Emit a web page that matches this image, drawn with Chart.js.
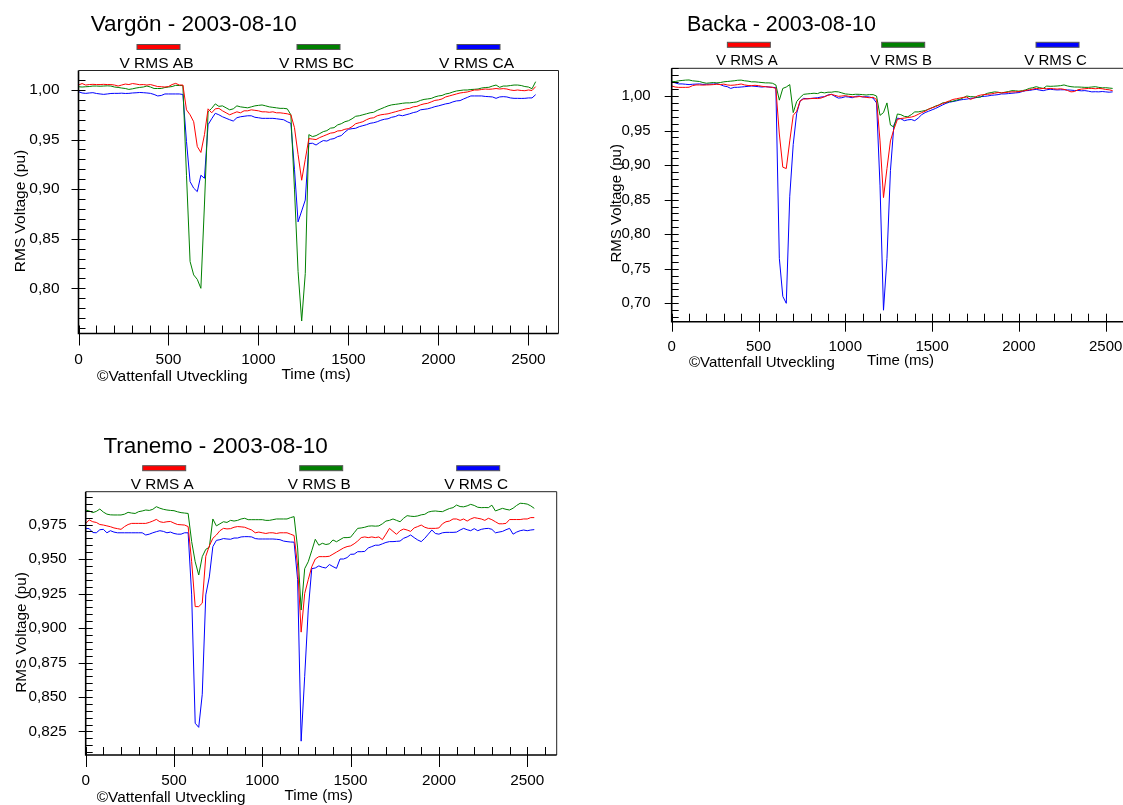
<!DOCTYPE html>
<html>
<head>
<meta charset="utf-8">
<title>RMS Voltage - 2003-08-10</title>
<script src="https://cdn.jsdelivr.net/npm/chart.js@4"></script>
<style>
  html, body { margin: 0; padding: 0; background: #fff; overflow: hidden; width: 1123px; height: 805px; }
  canvas { position: absolute; }
</style>
</head>
<body>
<canvas id="vargon" width="600" height="400" style="left:0;top:0;width:600px;height:400px"></canvas>
<canvas id="backa" width="560" height="400" style="left:600px;top:0;width:560px;height:400px"></canvas>
<canvas id="tranemo" width="600" height="375" style="left:0;top:430px;width:600px;height:375px"></canvas>
<script>
// sample times (ms), one sample per 20 ms
const timeMs = [
  0, 20, 40, 60, 80, 100, 120, 140,
  160, 180, 200, 220, 240, 260, 280, 300,
  320, 340, 360, 380, 400, 420, 440, 460,
  480, 500, 520, 540, 560, 580, 600, 620,
  640, 660, 680, 700, 720, 740, 760, 780,
  800, 820, 840, 860, 880, 900, 920, 940,
  960, 980, 1000, 1020, 1040, 1060, 1080, 1100,
  1120, 1140, 1160, 1180, 1200, 1220, 1240, 1260,
  1280, 1300, 1320, 1340, 1360, 1380, 1400, 1420,
  1440, 1460, 1480, 1500, 1520, 1540, 1560, 1580,
  1600, 1620, 1640, 1660, 1680, 1700, 1720, 1740,
  1760, 1780, 1800, 1820, 1840, 1860, 1880, 1900,
  1920, 1940, 1960, 1980, 2000, 2020, 2040, 2060,
  2080, 2100, 2120, 2140, 2160, 2180, 2200, 2220,
  2240, 2260, 2280, 2300, 2320, 2340, 2360, 2380,
  2400, 2420, 2440, 2460, 2480, 2500, 2520, 2540
];
// labelled time ticks
const timeTicks = [0, 500, 1000, 1500, 2000, 2500];

// Vargön, line-to-line voltages (pu)
const vargonAB = [
  1.005, 1.0065, 1.005, 1.0055, 1.0057, 1.0055, 1.0055, 1.0057,
  1.0055, 1.0055, 1.005, 1.004, 1.005, 1.006, 1.0055, 1.0065,
  1.006, 1.0053, 1.0055, 1.005, 1.0055, 1.0045, 1.0035, 1.0033,
  1.003, 1.0035, 1.0055, 1.0067, 1.005, 1.005, 0.980, 0.975,
  0.968, 0.943, 0.937, 0.955, 0.981, 0.977, 0.981, 0.9815,
  0.979, 0.977, 0.975, 0.9765, 0.978, 0.977, 0.979, 0.979,
  0.980, 0.9795, 0.979, 0.978, 0.978, 0.9775, 0.978, 0.977,
  0.977, 0.9765, 0.976, 0.975, 0.962, 0.935, 0.909, 0.930,
  0.951, 0.9505, 0.950, 0.952, 0.9535, 0.955, 0.9565, 0.957,
  0.9587, 0.959, 0.9604, 0.961, 0.963, 0.966, 0.967, 0.968,
  0.970, 0.9715, 0.972, 0.974, 0.975, 0.9755, 0.976, 0.977,
  0.978, 0.979, 0.980, 0.981, 0.9815, 0.983, 0.9835, 0.985,
  0.986, 0.9866, 0.988, 0.9895, 0.990, 0.991, 0.993, 0.994,
  0.995, 0.996, 0.997, 0.9975, 0.998, 0.999, 1.000, 1.000,
  1.0005, 1.001, 1.0007, 1.001, 1.0015, 1.001, 1.0014, 1.001,
  1.000, 0.9995, 1.000, 0.9995, 0.9993, 1.000, 0.9995, 1.0034
];
const vargonBC = [
  1.0033, 1.003, 1.0033, 1.0035, 1.004, 1.004, 1.0038, 1.004,
  1.0042, 1.004, 1.003, 1.0026, 1.002, 1.0015, 1.0006, 1.0012,
  1.002, 1.0026, 1.003, 1.004, 1.003, 1.0015, 1.0015, 1.0015,
  1.0025, 1.003, 1.0035, 1.0047, 1.0045, 1.0045, 0.914, 0.827,
  0.8135, 0.809, 0.800, 0.885, 0.978, 0.9815, 0.986, 0.9835,
  0.984, 0.982, 0.980, 0.981, 0.984, 0.983, 0.9825, 0.982,
  0.983, 0.984, 0.9845, 0.9849, 0.984, 0.983, 0.9825, 0.982,
  0.9815, 0.9815, 0.981, 0.975, 0.900, 0.817, 0.767, 0.815,
  0.955, 0.953, 0.954, 0.956, 0.958, 0.959, 0.9615, 0.962,
  0.9648, 0.966, 0.968, 0.969, 0.971, 0.9735, 0.974, 0.975,
  0.976, 0.977, 0.9775, 0.9795, 0.981, 0.9825, 0.984, 0.985,
  0.9855, 0.986, 0.9866, 0.987, 0.987, 0.9875, 0.988, 0.9895,
  0.9905, 0.991, 0.9915, 0.993, 0.994, 0.9945, 0.996, 0.9967,
  0.998, 0.999, 0.9995, 1.000, 1.000, 1.0005, 1.0007, 1.001,
  1.002, 1.0025, 1.0027, 1.004, 1.005, 1.0027, 1.004, 1.004,
  1.0045, 1.005, 1.005, 1.0045, 1.0035, 1.003, 1.0013, 1.0084
];
const vargonCA = [
  0.9983, 0.997, 0.9966, 0.997, 0.9973, 0.9965, 0.996, 0.9956,
  0.996, 0.9965, 0.9966, 0.9966, 0.9968, 0.9965, 0.9966, 0.997,
  0.9972, 0.9975, 0.9973, 0.997, 0.9966, 0.9955, 0.994, 0.9945,
  0.996, 0.996, 0.996, 0.996, 0.996, 0.9955, 0.948, 0.9076,
  0.901, 0.8975, 0.914, 0.911, 0.965, 0.971, 0.9765, 0.975,
  0.973, 0.9715, 0.970, 0.9687, 0.972, 0.973, 0.9735, 0.974,
  0.974, 0.9725, 0.972, 0.9714, 0.9714, 0.9714, 0.9714, 0.971,
  0.9705, 0.970, 0.968, 0.9664, 0.920, 0.867, 0.878, 0.889,
  0.946, 0.9463, 0.9445, 0.947, 0.949, 0.9485, 0.9503, 0.951,
  0.953, 0.954, 0.9575, 0.9604, 0.961, 0.9614, 0.963, 0.964,
  0.965, 0.9664, 0.967, 0.968, 0.9695, 0.9705, 0.971, 0.9725,
  0.9732, 0.9748, 0.974, 0.975, 0.976, 0.9772, 0.978, 0.980,
  0.9805, 0.981, 0.982, 0.9832, 0.984, 0.985, 0.986, 0.9866,
  0.988, 0.989, 0.9893, 0.991, 0.9925, 0.994, 0.994, 0.994,
  0.994, 0.9935, 0.9933, 0.993, 0.9916, 0.993, 0.9933, 0.993,
  0.992, 0.9916, 0.9916, 0.9915, 0.9916, 0.992, 0.992, 0.9953
];

// Backa, phase voltages (pu)
const backaA = [
  1.0145, 1.013, 1.0125, 1.0125, 1.0125, 1.0127, 1.015, 1.016,
  1.016, 1.0158, 1.016, 1.0162, 1.0165, 1.017, 1.0165, 1.0172,
  1.016, 1.0155, 1.0158, 1.0165, 1.0174, 1.016, 1.0152, 1.015,
  1.0155, 1.015, 1.014, 1.0135, 1.013, 1.0125, 1.011, 0.945,
  0.897, 0.895, 0.935, 0.972, 0.978, 0.993, 0.9955, 0.996,
  0.9962, 0.9966, 0.9963, 0.997, 0.999, 1.001, 1.0024, 1.001,
  0.9995, 1.000, 1.0005, 0.9995, 0.999, 0.9985, 0.9992, 0.999,
  0.998, 0.9975, 0.9982, 0.995, 0.935, 0.853, 0.895, 0.935,
  0.952, 0.966, 0.9675, 0.968, 0.969, 0.9695, 0.971, 0.9735,
  0.976, 0.978, 0.981, 0.983, 0.9845, 0.987, 0.989, 0.991,
  0.993, 0.995, 0.996, 0.997, 0.998, 0.9985, 0.995, 0.997,
  1.000, 1.0014, 1.002, 1.0025, 1.003, 1.004, 1.005, 1.0045,
  1.005, 1.0055, 1.006, 1.006, 1.0065, 1.007, 1.008, 1.009,
  1.010, 1.011, 1.0105, 1.011, 1.0105, 1.011, 1.0105, 1.010,
  1.0105, 1.0096, 1.008, 1.006, 1.0065, 1.009, 1.010, 1.0105,
  1.011, 1.011, 1.0105, 1.011, 1.0105, 1.0095, 1.009, 1.0077
];
const backaB = [
  1.0207, 1.021, 1.022, 1.0225, 1.023, 1.0232, 1.022, 1.0215,
  1.021, 1.0195, 1.0185, 1.019, 1.0195, 1.019, 1.0195, 1.0205,
  1.021, 1.0215, 1.022, 1.0228, 1.023, 1.022, 1.0215, 1.0205,
  1.0205, 1.020, 1.0195, 1.019, 1.019, 1.0185, 1.016, 0.994,
  1.011, 1.013, 1.0165, 0.976, 0.992, 0.998, 1.0024, 1.003,
  1.0035, 1.004, 1.0035, 1.0055, 1.0045, 1.0055, 1.0055, 1.0063,
  1.006, 1.0045, 1.003, 1.0025, 1.002, 1.0025, 1.0024, 1.002,
  1.0015, 1.002, 1.002, 1.000, 0.972, 0.976, 0.990, 0.958,
  0.955, 0.974, 0.973, 0.9705, 0.970, 0.973, 0.977, 0.977,
  0.978, 0.979, 0.981, 0.983, 0.9855, 0.987, 0.990, 0.9905,
  0.992, 0.9925, 0.994, 0.9951, 0.9975, 1.000, 0.999, 0.999,
  0.998, 0.9985, 1.002, 1.004, 1.005, 1.006, 1.0055, 1.0045,
  1.0055, 1.0065, 1.0077, 1.0075, 1.007, 1.0077, 1.009, 1.011,
  1.012, 1.0135, 1.012, 1.011, 1.0144, 1.014, 1.0142, 1.0145,
  1.015, 1.016, 1.0145, 1.0135, 1.013, 1.013, 1.0128, 1.0125,
  1.0125, 1.013, 1.0135, 1.0125, 1.0118, 1.012, 1.0115, 1.011
];
const backaC = [
  1.0207, 1.019, 1.0175, 1.0175, 1.017, 1.0165, 1.017, 1.0172,
  1.0175, 1.0168, 1.017, 1.0172, 1.0174, 1.0178, 1.0165, 1.0145,
  1.0135, 1.011, 1.0125, 1.0126, 1.013, 1.0135, 1.014, 1.0145,
  1.014, 1.0135, 1.013, 1.0135, 1.013, 1.0126, 1.012, 0.765,
  0.710, 0.700, 0.855, 0.930, 0.975, 0.993, 0.9966, 0.996,
  0.9965, 0.997, 0.9975, 0.9985, 0.999, 1.0015, 1.0024, 0.9995,
  0.997, 0.9975, 0.999, 0.9985, 0.9975, 0.9995, 1.000, 0.9985,
  0.999, 0.9985, 0.997, 0.990, 0.870, 0.690, 0.765, 0.892,
  0.958, 0.968, 0.967, 0.9643, 0.9655, 0.966, 0.9643, 0.968,
  0.973, 0.976, 0.978, 0.980, 0.982, 0.9845, 0.987, 0.9894,
  0.991, 0.992, 0.993, 0.9942, 0.995, 0.9955, 0.9966, 0.997,
  0.998, 0.999, 0.9995, 1.000, 1.001, 1.0014, 1.002, 1.003,
  1.003, 1.0035, 1.004, 1.0045, 1.005, 1.0065, 1.0077, 1.008,
  1.009, 1.0096, 1.0085, 1.0077, 1.009, 1.0098, 1.0092, 1.0088,
  1.009, 1.009, 1.0088, 1.0085, 1.008, 1.008, 1.0075, 1.0078,
  1.007, 1.006, 1.0062, 1.006, 1.0065, 1.006, 1.0055, 1.006
];

// Tranemo, phase voltages (pu)
const tranemoA = [
  0.9758, 0.9783, 0.977, 0.9765, 0.975, 0.9746, 0.974, 0.9734,
  0.9725, 0.972, 0.9715, 0.9735, 0.975, 0.9758, 0.9758, 0.9758,
  0.9758, 0.9758, 0.9765, 0.9775, 0.9787, 0.977, 0.9765, 0.977,
  0.9772, 0.976, 0.975, 0.9748, 0.9746, 0.9735, 0.948, 0.9155,
  0.9155, 0.918, 0.952, 0.9595, 0.965, 0.9674, 0.9705, 0.9722,
  0.9718, 0.972, 0.973, 0.9735, 0.9733, 0.973, 0.972, 0.971,
  0.969, 0.9695, 0.969, 0.9685, 0.969, 0.969, 0.9685, 0.969,
  0.969, 0.969, 0.968, 0.967, 0.945, 0.897, 0.925, 0.935,
  0.9444, 0.950, 0.9517, 0.9517, 0.9517, 0.952, 0.9535, 0.955,
  0.9565, 0.958, 0.959, 0.9595, 0.961, 0.963, 0.9655, 0.966,
  0.9655, 0.966, 0.9655, 0.966, 0.964, 0.968, 0.9722, 0.970,
  0.9679, 0.9705, 0.9717, 0.971, 0.970, 0.9725, 0.9735, 0.9746,
  0.973, 0.9722, 0.9722, 0.9722, 0.9725, 0.9755, 0.977, 0.9775,
  0.979, 0.979, 0.978, 0.979, 0.9775, 0.979, 0.980, 0.9795,
  0.979, 0.978, 0.9795, 0.9785, 0.977, 0.9755, 0.9755, 0.9758,
  0.9786, 0.9786, 0.9786, 0.9786, 0.979, 0.979, 0.980, 0.980
];
const tranemoB = [
  0.9855, 0.9848, 0.9836, 0.9845, 0.9862, 0.984, 0.9825, 0.982,
  0.9819, 0.9819, 0.9819, 0.9825, 0.9838, 0.9833, 0.983, 0.9843,
  0.9848, 0.9855, 0.9852, 0.986, 0.9879, 0.9868, 0.986, 0.9855,
  0.9852, 0.985, 0.9842, 0.9836, 0.9833, 0.983, 0.9626, 0.948,
  0.9384, 0.9517, 0.957, 0.9585, 0.979, 0.974, 0.9755, 0.977,
  0.9765, 0.978, 0.9775, 0.978, 0.979, 0.9795, 0.9785, 0.9785,
  0.9785, 0.9785, 0.9785, 0.978, 0.978, 0.9785, 0.979, 0.979,
  0.979, 0.979, 0.980, 0.9807, 0.958, 0.913, 0.943, 0.948,
  0.956, 0.9643, 0.960, 0.9614, 0.9605, 0.961, 0.9638, 0.9625,
  0.964, 0.9655, 0.9655, 0.9658, 0.969, 0.9722, 0.9725, 0.973,
  0.9738, 0.974, 0.9738, 0.974, 0.9755, 0.9775, 0.978, 0.979,
  0.978, 0.977, 0.9795, 0.9814, 0.981, 0.9808, 0.9812, 0.982,
  0.9824, 0.984, 0.9846, 0.9848, 0.9845, 0.9843, 0.9855, 0.9866,
  0.9872, 0.9891, 0.988, 0.9878, 0.9885, 0.9896, 0.9888, 0.9875,
  0.9872, 0.9873, 0.9872, 0.989, 0.9848, 0.9858, 0.9867, 0.986,
  0.9855, 0.9868, 0.9888, 0.9904, 0.9902, 0.9898, 0.9885, 0.9867
];
const tranemoC = [
  0.9722, 0.972, 0.9692, 0.969, 0.9712, 0.9715, 0.969, 0.9705,
  0.9695, 0.969, 0.969, 0.969, 0.969, 0.969, 0.969, 0.969,
  0.969, 0.9674, 0.968, 0.969, 0.9698, 0.9705, 0.970, 0.969,
  0.9695, 0.9685, 0.968, 0.968, 0.969, 0.969, 0.924, 0.831,
  0.828, 0.852, 0.924, 0.937, 0.959, 0.9635, 0.964, 0.9648,
  0.9645, 0.9643, 0.9652, 0.9652, 0.966, 0.9662, 0.9662, 0.966,
  0.9648, 0.9645, 0.9645, 0.9645, 0.9645, 0.9645, 0.9643, 0.964,
  0.963, 0.9626, 0.9623, 0.9622, 0.935, 0.818, 0.865, 0.913,
  0.943, 0.9435, 0.945, 0.944, 0.9435, 0.946, 0.9445, 0.9432,
  0.950, 0.950, 0.951, 0.9534, 0.9535, 0.9553, 0.9553, 0.9555,
  0.958, 0.959, 0.960, 0.960, 0.961, 0.962, 0.9626, 0.9626,
  0.9628, 0.963, 0.965, 0.966, 0.9674, 0.9655, 0.9638, 0.9626,
  0.965, 0.968, 0.971, 0.9685, 0.968, 0.969, 0.9693, 0.9693,
  0.9693, 0.9695, 0.971, 0.9722, 0.9712, 0.9705, 0.972, 0.9705,
  0.9715, 0.972, 0.9722, 0.9715, 0.969, 0.9695, 0.970, 0.9712,
  0.9722, 0.968, 0.9695, 0.9705, 0.971, 0.9705, 0.971, 0.9713
];

const RED = '#ff0000', GREEN = '#008000', BLUE = '#0000ff';
const FONT = "'Liberation Sans', Arial, sans-serif";

// frame, inward ticks, legend swatches and captions around each plot
function makeDecor(L, series) {
  return {
    id: 'decor',
    afterDraw(chart) {
      const c = chart.ctx;
      const a = chart.chartArea;
      const xs = chart.scales.x, ys = chart.scales.y;
      const textFont = L.fontSize + 'px ' + FONT;
      c.save();

      c.strokeStyle = '#222';
      c.lineWidth = 1;
      c.beginPath();
      c.moveTo(a.left, a.top);
      c.lineTo(a.right, a.top);
      c.lineTo(a.right, a.bottom);
      c.stroke();

      c.strokeStyle = '#000';
      c.lineWidth = 1.6;
      c.beginPath();
      c.moveTo(a.left, a.top);
      c.lineTo(a.left, a.bottom);
      c.lineTo(a.right, a.bottom);
      c.stroke();

      // time ticks: minor each 100 ms, major each 500 ms
      c.lineWidth = 1;
      c.beginPath();
      for (let t = 0; t < xs.max; t += 100) {
        const px = Math.round(xs.getPixelForValue(t)) + 0.5;
        c.moveTo(px, a.bottom - 8);
        c.lineTo(px, t % 500 === 0 ? a.bottom + L.xTickOut : a.bottom);
      }
      // voltage ticks, every fifth one is labelled
      const k0 = Math.ceil(ys.min / L.yMinor - 1e-6);
      const k1 = Math.floor(ys.max / L.yMinor + 1e-6);
      for (let k = k0; k <= k1; k++) {
        const py = Math.round(ys.getPixelForValue(k * L.yMinor)) + 0.5;
        c.moveTo(k % 5 === 0 ? a.left - 7 : a.left, py);
        c.lineTo(a.left + 7, py);
      }
      c.stroke();

      // legend: swatch over label, three equal columns
      c.font = textFont;
      c.textAlign = 'center';
      c.textBaseline = 'middle';
      series.forEach((s, i) => {
        const cx = a.left + (a.right - a.left) * (2 * i + 1) / 6;
        c.fillStyle = s.color;
        c.fillRect(cx - 21.5, a.top - 26, 43, 5);
        c.strokeStyle = '#555';
        c.strokeRect(cx - 21.5, a.top - 26, 43, 5);
        c.fillStyle = '#000';
        c.fillText(s.label, cx - 2, a.top - 7);
      });

      c.fillStyle = '#000';
      c.fillText('Time (ms)', L.xTitleX, L.xTitleY);
      c.textAlign = 'left';
      c.fillText('\u00a9Vattenfall Utveckling', L.copyX, L.copyY);

      c.save();
      c.translate(L.yTitleX, L.yTitleY);
      c.rotate(-Math.PI / 2);
      c.textAlign = 'center';
      c.fillText('RMS Voltage (pu)', 0, 0);
      c.restore();

      c.font = L.titleSize + 'px ' + FONT;
      c.textAlign = 'left';
      c.fillText(L.title, L.titleX, L.titleY);
      c.restore();
    }
  };
}

function buildChart(id, L, series) {
  const ctx = document.getElementById(id).getContext('2d');
  const tickFont = { family: FONT, size: L.fontSize };
  return new Chart(ctx, {
    type: 'line',
    data: {
      datasets: series.map(s => ({
        label: s.label,
        data: timeMs.map((t, i) => ({ x: t, y: s.values[i] })),
        borderColor: s.color,
        borderWidth: 1,
        pointRadius: 0,
        tension: 0,
        fill: false
      }))
    },
    options: {
      responsive: false,
      animation: false,
      events: [],
      layout: { padding: { top: L.top, right: L.padRight, bottom: 0, left: 0 } },
      plugins: { legend: { display: false }, tooltip: { enabled: false }, title: { display: false } },
      scales: {
        x: {
          type: 'linear', min: 0, max: 2667,
          grid: { display: false, drawTicks: false },
          border: { display: false },
          afterBuildTicks: s => { s.ticks = timeTicks.map(v => ({ value: v })); },
          ticks: {
            autoSkip: false, maxRotation: 0,
            padding: L.xPad, color: '#000', font: tickFont,
            callback: v => String(v)
          },
          afterFit: s => { s.height = L.xAxisH; }
        },
        y: {
          type: 'linear', min: L.yMin, max: L.yMax,
          grid: { display: false, drawTicks: false },
          border: { display: false },
          ticks: {
            stepSize: L.yStep, includeBounds: false, autoSkip: false,
            padding: L.yPad, color: '#000', font: tickFont,
            callback: v => v.toFixed(L.decimals).replace('.', ',')
          },
          afterFit: s => { s.width = L.left; }
        }
      }
    },
    plugins: [makeDecor(L, series)]
  });
}

buildChart('vargon', {
  title: 'Varg\u00f6n - 2003-08-10', titleX: 90.7, titleY: 25, titleSize: 22.5, fontSize: 15.5,
  top: 70.5, left: 78.5, padRight: 41.5, xAxisH: 66.5,
  yMin: 0.75441, yMax: 1.01967, yStep: 0.05, yMinor: 0.01, decimals: 2,
  xPad: 17, yPad: 19, xTickOut: 12,
  yTitleX: 21, yTitleY: 211, xTitleX: 316, xTitleY: 375, copyX: 97, copyY: 377
}, [
  { label: 'V RMS AB', color: RED, values: vargonAB },
  { label: 'V RMS BC', color: GREEN, values: vargonBC },
  { label: 'V RMS CA', color: BLUE, values: vargonCA }
]);

buildChart('backa', {
  title: 'Backa - 2003-08-10', titleX: 87, titleY: 25, titleSize: 21.5, fontSize: 15,
  top: 68.3, left: 71.7, padRight: 25.3, xAxisH: 78.3,
  yMin: 0.67337, yMax: 1.0401, yStep: 0.05, yMinor: 0.01, decimals: 2,
  xPad: 16, yPad: 21, xTickOut: 10,
  yTitleX: 17, yTitleY: 203.3, xTitleX: 300.5, xTitleY: 361, copyX: 89, copyY: 362.7
}, [
  { label: 'V RMS A', color: RED, values: backaA },
  { label: 'V RMS B', color: GREEN, values: backaB },
  { label: 'V RMS C', color: BLUE, values: backaC }
]);

buildChart('tranemo', {
  title: 'Tranemo - 2003-08-10', titleX: 103.4, titleY: 16.7, titleSize: 22.5, fontSize: 15.3,
  top: 61.7, left: 85.7, padRight: 43.3, xAxisH: 50,
  yMin: 0.80797, yMax: 0.99877, yStep: 0.025, yMinor: 0.005, decimals: 3,
  xPad: 17, yPad: 19, xTickOut: 12,
  yTitleX: 21.8, yTitleY: 202.5, xTitleX: 318.6, xTitleY: 366, copyX: 96.8, copyY: 368
}, [
  { label: 'V RMS A', color: RED, values: tranemoA },
  { label: 'V RMS B', color: GREEN, values: tranemoB },
  { label: 'V RMS C', color: BLUE, values: tranemoC }
]);
</script>
</body>
</html>
